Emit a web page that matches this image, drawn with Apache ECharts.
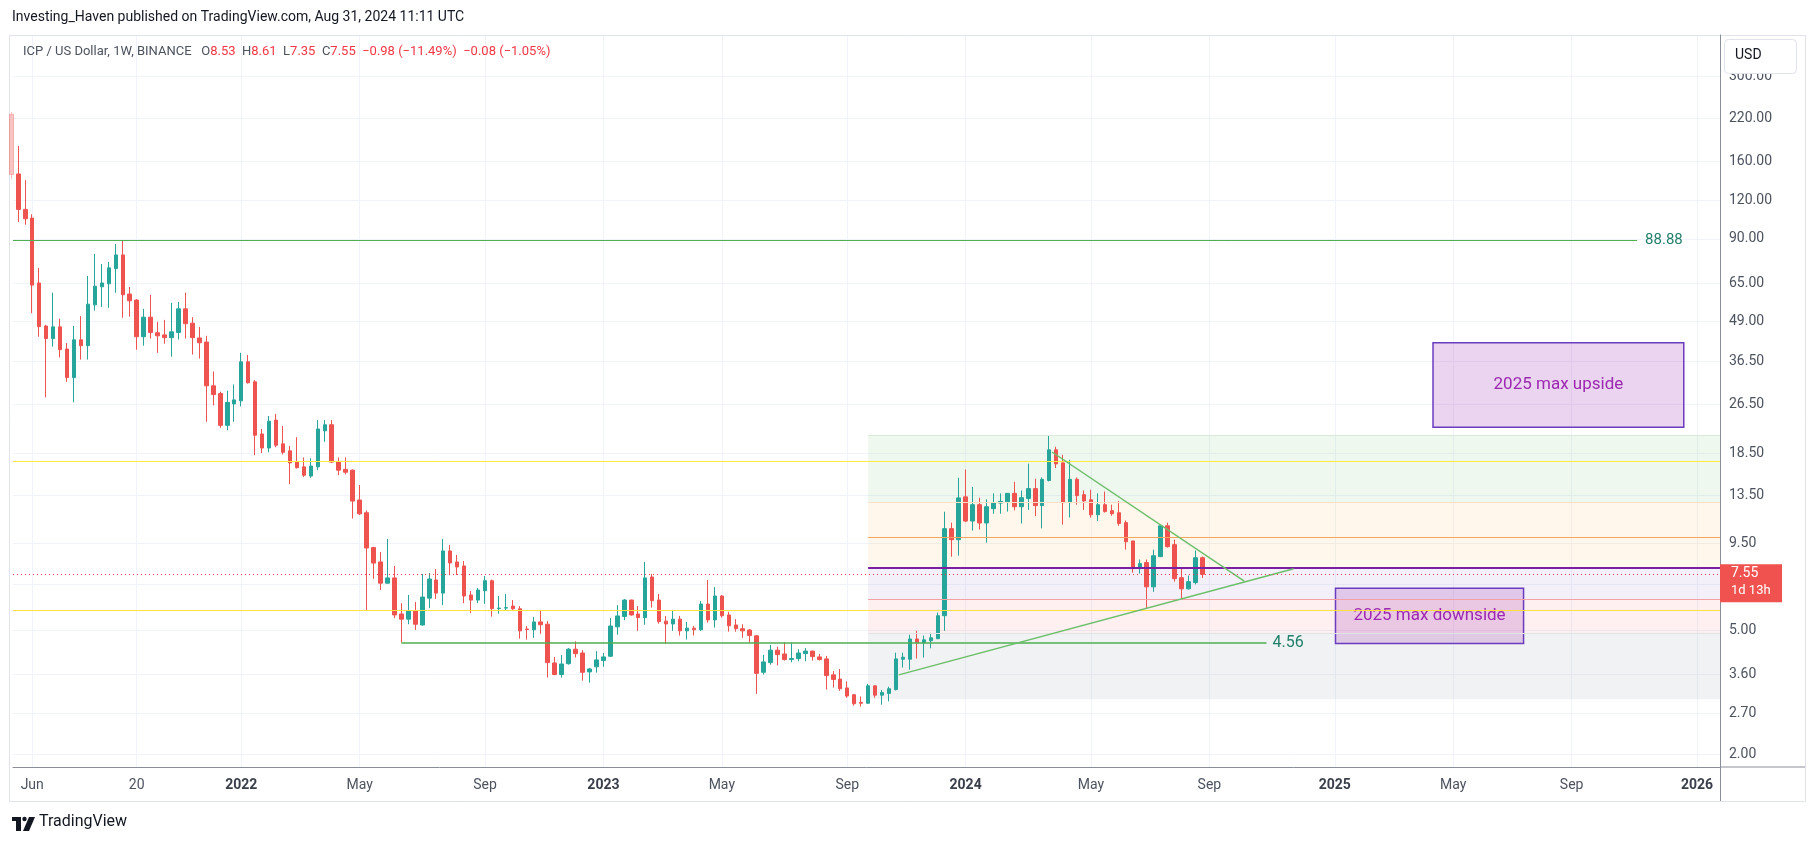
<!DOCTYPE html>
<html>
<head>
<meta charset="utf-8">
<script src="https://cdn.jsdelivr.net/npm/echarts@6/dist/echarts.min.js"></script>
<style>
  html, body { margin: 0; padding: 0; background: #ffffff; }
  #chart { width: 1814px; height: 846px; }
</style>
</head>
<body>
<div id="chart"></div>
<script>
// weekly bars, bar 0 = week of 2021-05-10
var opens = [226, 145.5, 112, 105, 65, 47.3, 43.1, 47, 39.9, 32.3, 42.7, 40.9, 55.3, 63.2, 64.6, 72.3, 80, 59.9, 57.3, 43.7,
  50.5, 45, 44.3, 43.4, 45.1, 53.7, 48.3, 43.3, 42, 30.4, 28.7, 22.7, 26.6, 27.2, 36.3, 31.3, 21.3, 19.2, 23.6, 19.8,
  18.8, 17.3, 16.7, 15.6, 16.7, 21.8, 22.8, 17.3, 16.4, 16.3, 13.07, 11.9, 9.2, 8.27, 7.07, 7.35, 5.63, 5.42, 5.76, 5.19,
  6.33, 7.24, 6.57, 8.97, 8.27, 8.03, 6.48, 6.24, 6.69, 7.2, 5.86, 5.88, 5.97, 5.85, 5.04, 5.01, 5.31, 5.22, 3.92, 3.6,
  3.9, 4.34, 4.22, 3.67, 3.81, 3.99, 4.12, 5.12, 5.53, 6.24, 5.63, 5.48, 7.4, 6.24, 5.34, 5.23, 5.42, 4.97, 5.07, 5.01,
  6.06, 5.39, 6.43, 5.59, 5.19, 5.05, 5.0, 4.79, 3.66, 3.93, 4.31, 4.19, 4.02, 4.05, 4.2, 4.28, 4.1, 4.04, 3.59, 3.48,
  3.26, 3.1, 2.93, 2.91, 3.31, 3.09, 3.13, 3.22, 4.03, 4.03, 4.68, 4.55, 4.62, 4.69, 5.56, 10.58, 9.75, 13.38, 11.19, 12.63,
  11.03, 12.26, 12.78, 12.91, 13.73, 12.44, 13.22, 14.22, 12.54, 15.1, 18.94, 17.2, 12.82, 15.23, 13.6, 13.1, 11.72, 12.63, 12.08, 11.9,
  11.06, 9.66, 7.87, 8.23, 6.88, 8.6, 10.8, 9.4, 7.36, 6.78, 7.1, 8.53];
var closes = [145, 112, 104.5, 64, 47.1, 43.1, 47.0, 39.7, 32.3, 42.7, 40.9, 55.6, 63.5, 65, 72.7, 80, 59.6, 57, 43.7, 50.5,
  45.1, 44, 43.4, 45.3, 53.7, 48.1, 43.4, 41.8, 30.4, 28.5, 22.7, 26.9, 27.4, 36.3, 31.1, 21.1, 19.2, 23.4, 19.6, 18.6,
  17.2, 16.6, 15.7, 16.8, 22.1, 22.8, 17.3, 16.3, 16.05, 12.97, 11.8, 9.17, 8.2, 7.07, 7.35, 5.59, 5.42, 5.76, 5.22, 6.38,
  7.29, 6.57, 8.97, 8.21, 7.97, 6.43, 6.24, 6.72, 7.2, 5.86, 5.88, 5.9, 5.85, 4.97, 5.02, 5.31, 5.2, 3.93, 3.6, 3.89,
  4.34, 4.2, 3.66, 3.75, 4.01, 4.1, 5.15, 5.55, 6.24, 5.59, 5.48, 7.35, 6.21, 5.32, 5.23, 5.42, 4.97, 5.07, 5.01, 6.06,
  5.39, 6.43, 5.56, 5.16, 5.05, 4.97, 4.8, 3.63, 3.95, 4.31, 4.17, 4.02, 4.05, 4.22, 4.28, 4.11, 4.02, 3.57, 3.47, 3.24,
  3.07, 2.9, 2.91, 3.31, 3.09, 3.15, 3.24, 4.04, 4.09, 4.68, 4.55, 4.65, 4.72, 5.56, 10.58, 9.75, 13.28, 11.19, 12.63, 11.03,
  12.44, 12.82, 12.94, 13.73, 12.44, 13.3, 14.22, 12.54, 15.23, 18.94, 17.07, 12.82, 15.23, 13.5, 12.98, 11.72, 12.63, 12.0, 11.81, 10.99,
  9.6, 7.87, 8.17, 6.88, 8.66, 10.8, 9.26, 7.31, 6.78, 7.15, 8.53, 7.55];
var lows = [140, 102, 100, 52, 43.7, 27.9, 40.6, 37.5, 31.3, 26.9, 36.9, 36.9, 53, 54.5, 54.1, 60.5, 50.3, 50.7, 39.7, 40.9,
  43.1, 38.8, 41.5, 37.7, 42.8, 43.1, 38.3, 37.2, 23.3, 26.3, 22.3, 21.9, 23.3, 26.1, 30.9, 18.2, 18.5, 18.6, 19.3, 18.3,
  14.7, 16.5, 15.5, 15.4, 16.3, 20.1, 17.2, 15.7, 15.8, 11.4, 11.7, 5.8, 7.3, 6.72, 7.05, 5.46, 4.56, 5.22, 5.0, 5.17,
  5.88, 6.29, 6.01, 7.51, 7.51, 6.1, 5.67, 6.1, 6.07, 5.52, 5.64, 5.76, 5.8, 4.69, 4.66, 4.72, 4.86, 3.52, 3.58, 3.52,
  3.87, 4.08, 3.44, 3.39, 3.65, 3.81, 4.1, 4.83, 5.38, 5.56, 4.97, 5.2, 5.9, 5.24, 4.52, 4.97, 4.8, 4.66, 4.8, 4.97,
  5.28, 5.09, 5.48, 4.94, 4.94, 4.72, 4.55, 3.12, 3.6, 3.87, 3.85, 3.99, 3.94, 3.97, 3.97, 3.99, 3.99, 3.22, 3.27, 3.19,
  3.03, 2.86, 2.84, 2.9, 3.03, 2.88, 2.95, 3.2, 3.79, 3.73, 4.05, 4.08, 4.37, 4.68, 4.97, 8.6, 8.66, 11.1, 10.43, 10.51,
  9.54, 11.81, 11.81, 12.0, 12.1, 10.99, 12.15, 11.6, 10.6, 15.0, 16.55, 10.9, 11.48, 12.63, 12.15, 11.48, 11.2, 11.91, 11.63, 10.8,
  9.06, 7.64, 7.59, 5.86, 6.63, 8.58, 9.2, 7.15, 6.3, 6.74, 7.01, 7.35];
var highs = [230, 179, 139, 108, 72.7, 47.7, 60.5, 49.9, 41.7, 47.3, 50.9, 68.5, 80.6, 74.8, 75.9, 86.7, 88.9, 63.1, 57.7, 53.7,
  59.5, 48.8, 49.5, 56.1, 56.5, 60.5, 50.5, 47, 44, 33.8, 29.1, 29.3, 30.7, 38.8, 38.2, 31.7, 22.1, 24.3, 24.7, 22.6,
  19.5, 20.8, 17.9, 17.8, 23.6, 23.6, 23.6, 17.9, 17.9, 16.4, 14.6, 12.1, 9.25, 8.9, 9.8, 8.03, 6.1, 6.48, 6.15, 7.57,
  7.62, 7.85, 9.8, 9.38, 8.71, 8.33, 6.67, 6.82, 7.45, 7.26, 6.43, 6.53, 6.24, 5.97, 5.15, 5.51, 5.8, 5.34, 4.1, 4.16,
  4.38, 4.6, 4.31, 3.78, 4.28, 4.22, 5.46, 6.01, 6.29, 6.26, 5.97, 8.27, 7.57, 6.53, 5.55, 5.8, 5.55, 5.31, 5.15, 6.2,
  7.24, 6.87, 6.48, 5.72, 5.42, 5.22, 5.04, 4.82, 4.16, 4.48, 4.42, 4.57, 4.55, 4.34, 4.38, 4.29, 4.19, 4.13, 3.69, 3.75,
  3.42, 3.11, 3.06, 3.36, 3.32, 3.21, 3.29, 4.23, 4.23, 4.83, 4.97, 4.8, 4.9, 5.69, 11.99, 11.06, 15.41, 16.38, 14.4, 13.3,
  13.14, 13.73, 13.73, 13.75, 14.95, 14.02, 17.1, 15.3, 15.45, 21.0, 19.38, 18.26, 17.6, 15.45, 14.02, 14.1, 13.73, 13.92, 12.63, 12.98,
  11.24, 9.67, 8.42, 8.42, 9.06, 10.88, 11.06, 9.75, 7.93, 7.48, 9.0, 8.61];

var timeTicks = [3, 18, 33, 50, 68, 85, 102, 120, 137, 155, 172, 190, 207, 224, 242];
var timeLabels = ['Jun', '20', '2022', 'May', 'Sep', '2023', 'May', 'Sep', '2024', 'May', 'Sep', '2025', 'May', 'Sep', '2026'];
var priceTicks = [2, 2.7, 3.6, 5, 7, 9.5, 13.5, 18.5, 26.5, 36.5, 49, 65, 90, 120, 160, 220, 300];
var hiddenPriceTick = 7;

// drawings
var lastPrice = 7.55;
var resistance = 88.88;
var support = 4.56;
var yellowLevels = [17.4, 5.78];
var fibStartBar = 123;
var fibBands = [[21.1, 12.85], [12.85, 7.91], [7.91, 6.27], [6.27, 4.9], [4.9, 3.0]];
var fibLines = [21.1, 12.85, 9.92, 7.91, 6.27, 4.9];
var downTrend = [[149.4, 18.64], [177.0, 7.18]];
var upTrend = [[127.4, 3.59], [184.1, 7.87]];
var supportSpan = [56, 180.2];
var resistanceEnd = 233.4;
var upsideBox = [[204.1, 41.8], [240.1, 22.4]];
var downsideBox = [[190.1, 6.81], [217.1, 4.53]];

var xMin = 0.24, xMax = 245.3;
var yMin = 1.817, yMax = 406.4;

var up = '#26a69a', down = '#ef5350';
var gridColor = '#f0f3fa';
var axisText = '#4c525e';
var font = 'Roboto, "Noto Sans", sans-serif';

// first bar sits on the left edge of the pane, mostly cut off
var candles = opens.map(function(o, i) {
  var item = { value: [i, o, closes[i], lows[i], highs[i]] };
  if (i === 0) item.itemStyle = { opacity: 0.35 };
  return item;
});

var bandFills = ['rgba(76,175,80,0.09)', 'rgba(255,152,0,0.08)', 'rgba(103,58,183,0.08)', 'rgba(242,54,69,0.08)', 'rgba(120,123,134,0.1)'];
var fibLineColors = ['#d6ecd6', '#fbe0c6', '#f5a65b', '#7b1fa2', '#f4a0a4', '#e3e3e6'];

var chart = echarts.init(document.getElementById('chart'), null, { renderer: 'canvas' });

chart.setOption({
  animation: false,
  backgroundColor: '#ffffff',
  textStyle: { fontFamily: font },
  grid: { left: 13, right: 94, top: 35, bottom: 79 },
  xAxis: {
    type: 'value',
    min: xMin,
    max: xMax,
    axisLine: { show: true, lineStyle: { color: '#8a8e99', width: 1 } },
    axisTick: { show: false, customValues: timeTicks },
    axisLabel: {
      customValues: timeTicks,
      margin: 11,
      fontSize: 14,
      color: axisText,
      fontFamily: font,
      formatter: function(v) {
        var i = timeTicks.indexOf(v);
        var t = i >= 0 ? timeLabels[i] : '';
        return /^\d{4}$/.test(t) ? '{y|' + t + '}' : t;
      },
      rich: { y: { fontWeight: 'bold', fontSize: 14, color: '#3a3f4b', fontFamily: font } }
    },
    splitLine: { show: true, lineStyle: { color: gridColor, width: 1 } }
  },
  yAxis: {
    type: 'log',
    logBase: 10,
    position: 'right',
    min: yMin,
    max: yMax,
    axisLine: { show: true, lineStyle: { color: '#8a8e99', width: 1 } },
    axisTick: { show: false, customValues: priceTicks },
    axisLabel: {
      customValues: priceTicks,
      margin: 9,
      fontSize: 14,
      color: axisText,
      fontFamily: font,
      formatter: function(v) { return v === hiddenPriceTick ? '' : v.toFixed(2); }
    },
    splitLine: { show: true, lineStyle: { color: gridColor, width: 1 } }
  },
  series: [
    {
      name: 'fib',
      type: 'line',
      data: [],
      z: 1,
      silent: true,
      markArea: {
        silent: true,
        data: fibBands.map(function(b, i) {
          return [{ xAxis: fibStartBar, yAxis: b[0], itemStyle: { color: bandFills[i] } }, { xAxis: xMax, yAxis: b[1] }];
        })
      },
      markLine: {
        silent: true,
        symbol: ['none', 'none'],
        label: { show: false },
        data: fibLines.map(function(v, i) {
          return [{ coord: [fibStartBar, v], lineStyle: { color: fibLineColors[i], width: i === 3 ? 2 : 1, type: 'solid' } }, { coord: [xMax, v] }];
        })
      }
    },
    {
      name: 'levels',
      type: 'line',
      data: [],
      z: 2,
      silent: true,
      markLine: {
        silent: true,
        symbol: ['none', 'none'],
        label: { show: false },
        data: [
          { yAxis: yellowLevels[0], lineStyle: { color: '#ffeb3b', width: 1, type: 'solid' } },
          { yAxis: yellowLevels[1], lineStyle: { color: '#ffe23b', width: 1, type: 'solid' } },
          [{ coord: [xMin, resistance], lineStyle: { color: '#4caf50', width: 1, type: 'solid' },
             label: { show: true, position: 'end', formatter: '88.88', color: '#22806a', fontSize: 15, distance: 8 } },
           { coord: [resistanceEnd, resistance] }],
          [{ coord: [supportSpan[0], support], lineStyle: { color: '#4caf50', width: 1.5, type: 'solid' },
             label: { show: true, position: 'end', formatter: '4.56', color: '#22806a', fontSize: 16, distance: 6 } },
           { coord: [supportSpan[1], support] }],
          [{ coord: downTrend[0], lineStyle: { color: '#6cbf6a', width: 1.5, type: 'solid' } }, { coord: downTrend[1] }],
          [{ coord: upTrend[0], lineStyle: { color: '#6cbf6a', width: 1.5, type: 'solid' } }, { coord: upTrend[1] }],
          { yAxis: lastPrice, lineStyle: { color: '#f23645', width: 1, type: [1, 3] } }
        ]
      }
    },
    {
      name: 'ICP / US Dollar',
      type: 'candlestick',
      z: 3,
      barWidth: 4,
      encode: { x: 0, y: [1, 2, 3, 4] },
      data: candles,
      itemStyle: { color: up, color0: down, borderColor: up, borderColor0: down, borderWidth: 1 }
    },
    {
      name: 'boxes',
      type: 'line',
      data: [],
      z: 4,
      silent: true,
      markArea: {
        silent: true,
        itemStyle: { color: 'rgba(156,39,176,0.2)', borderColor: '#6a3cc0', borderWidth: 1.5 },
        label: { show: true, position: 'inside', color: '#9c27b0', fontSize: 17, fontFamily: font },
        data: [
          [{ name: '2025 max upside', xAxis: upsideBox[0][0], yAxis: upsideBox[0][1] }, { xAxis: upsideBox[1][0], yAxis: upsideBox[1][1] }],
          [{ name: '2025 max downside', xAxis: downsideBox[0][0], yAxis: downsideBox[0][1] }, { xAxis: downsideBox[1][0], yAxis: downsideBox[1][1] }]
        ]
      }
    }
  ]
});

// chrome: header, frame, price badge, logo
var badgeY = chart.convertToPixel({ gridIndex: 0 }, [xMax, lastPrice])[1];
var red = '#f23645';
chart.setOption({
  graphic: [
    { type: 'rect', z: 0, silent: true, shape: { x: 9.5, y: 35.5, width: 1796, height: 766 }, style: { fill: 'none', stroke: '#e0e3eb', lineWidth: 1 } },
    { type: 'line', z: 5, silent: true, shape: { x1: 1720, y1: 767, x2: 1805, y2: 767 }, style: { stroke: '#8a8e99', lineWidth: 1 } },
    { type: 'line', z: 5, silent: true, shape: { x1: 1720.5, y1: 767, x2: 1720.5, y2: 801 }, style: { stroke: '#8a8e99', lineWidth: 1 } },
    { type: 'text', z: 10, silent: true, left: 12, top: 10, style: { text: 'Investing_Haven published on TradingView.com, Aug 31, 2024 11:11 UTC', fill: '#131722', font: '14px ' + font } },
    {
      type: 'text', z: 10, silent: true, left: 23, top: 45,
      style: {
        text: '{g|ICP / US Dollar, 1W, BINANCE}   {g|O}{r|8.53}  {g|H}{r|8.61}  {g|L}{r|7.35}  {g|C}{r|7.55}  {r|\u22120.98 (\u221211.49%)}  {r|\u22120.08 (\u22121.05%)}',
        font: '13px ' + font,
        rich: { g: { fill: '#4c525e', font: '13px ' + font }, r: { fill: red, font: '13px ' + font } }
      }
    },
    { type: 'rect', z: 10, silent: true, shape: { x: 1724.5, y: 39.5, width: 72, height: 34, r: 4 }, style: { fill: '#ffffff', stroke: '#e0e3eb', lineWidth: 1 } },
    { type: 'text', z: 11, silent: true, left: 1735, top: 48, style: { text: 'USD', fill: '#131722', font: '14px ' + font } },
    { type: 'rect', z: 10, silent: true, shape: { x: 1720, y: badgeY - 10, width: 62, height: 38 }, style: { fill: '#f0524f' } },
    { type: 'text', z: 11, silent: true, left: 1731, top: badgeY - 8, style: { text: '7.55', fill: '#ffffff', font: '14px ' + font } },
    { type: 'text', z: 11, silent: true, left: 1731, top: badgeY + 10, style: { text: '1d 13h', fill: '#ffffff', font: '13px ' + font } },
    { type: 'rect', z: 10, silent: true, shape: { x: 12, y: 817, width: 9, height: 4 }, style: { fill: '#131722' } },
    { type: 'rect', z: 10, silent: true, shape: { x: 16, y: 817, width: 5, height: 14 }, style: { fill: '#131722' } },
    { type: 'circle', z: 10, silent: true, shape: { cx: 24.5, cy: 819, r: 2.2 }, style: { fill: '#131722' } },
    { type: 'polygon', z: 10, silent: true, shape: { points: [[29, 817], [35, 817], [29, 831], [23, 831]] }, style: { fill: '#131722' } },
    { type: 'text', z: 10, silent: true, left: 39, top: 814, style: { text: 'TradingView', fill: '#131722', font: '16px ' + font } }
  ]
});
</script>
</body>
</html>
